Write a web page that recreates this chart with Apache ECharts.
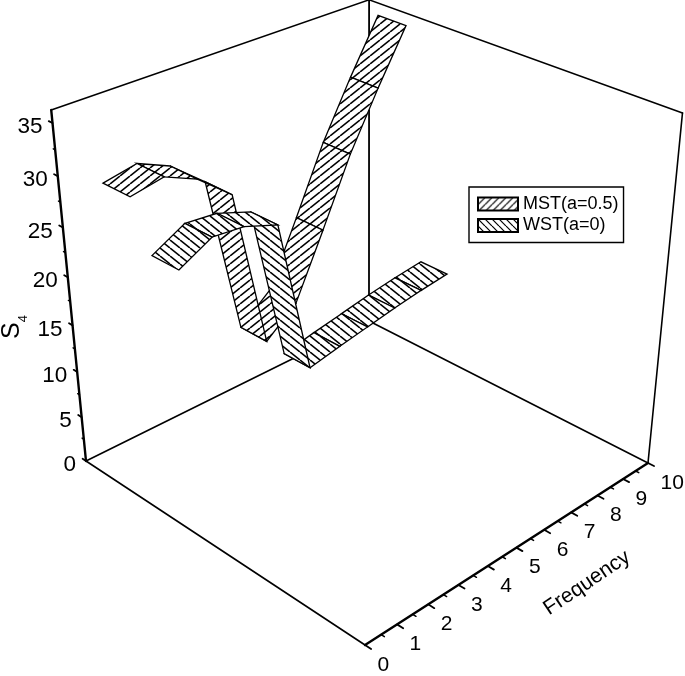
<!DOCTYPE html>
<html>
<head>
<meta charset="utf-8">
<style>html,body{margin:0;padding:0;background:#fff}#c{width:685px;height:676px}</style>
<script src="https://cdn.jsdelivr.net/npm/echarts@6/dist/echarts.min.js"></script>
</head>
<body>
<div id="c"></div>
<script>
// ---- data ----
var freqTicks = [0,1,2,3,4,5,6,7,8,9,10];
var s4Ticks = [0,5,10,15,20,25,30,35];
var frequency = [0,0.97,1.9,2.9,3.8,4.8,5.75,6.7,7.65,8.6];
var mstS4 = [31.6,32.2,30.8,28.0,11.6,14.2,20.6,27.2,32.7,37.8];
var wstS4 = [27.0,28.7,28.4,27.2,11.3,12.0,12.6,13.2,13.7,14.1];
var mstDepth = [0.173,0.269];
var wstDepth = [0.3325,0.425];
var FONT = '"Liberation Sans", Arial, sans-serif';
var S_TOP = 36.2, F_MAX = 10;

// perspective projection of (frequency, depth, S4) to the flat plot plane
function proj(f, d, s) {
  var u = f / F_MAX, t = 0.003034 * s;
  var w = 1 + 0.13067 * u - 0.12882 * d - t;
  return [(331.2 * u + 232 * d + 86 - 368 * t) / w,
          (-98.05 * u + 100.91 * d + 461 - 3306 * t) / w];
}

function hatch(w, h, dir, lw) {
  var c = document.createElement('canvas');
  c.width = w; c.height = h;
  var x = c.getContext('2d');
  x.fillStyle = '#fff'; x.fillRect(0, 0, w, h);
  x.strokeStyle = '#000'; x.lineWidth = lw;
  for (var k = -1; k <= 1; k++) {
    x.beginPath();
    if (dir > 0) { x.moveTo(k * w, h); x.lineTo(k * w + w, 0); }
    else { x.moveTo(k * w, 0); x.lineTo(k * w + w, h); }
    x.stroke();
  }
  return { image: c, repeat: 'repeat' };
}
var mstFill = hatch(10, 8, 1, 1.6), wstFill = hatch(10, 8, -1, 1.6);
var mstKey = hatch(7, 7, 1, 1.2), wstKey = hatch(7, 7, -1, 1.2);

function ribbon(name, values, depth, fill, key, z) {
  var idx = [];
  for (var i = values.length - 2; i >= 0; i--) idx.push([i]);
  return {
    type: 'custom', name: name, z: z, silent: true, clip: false,
    itemStyle: { color: key, borderColor: '#000', borderWidth: 1.2 },
    data: idx,
    renderItem: function (p, api) {
      var i = api.value(0), f0 = frequency[i], f1 = frequency[i + 1];
      var pts = [proj(f0, depth[0], values[i]), proj(f1, depth[0], values[i + 1]),
                 proj(f1, depth[1], values[i + 1]), proj(f0, depth[1], values[i])];
      return { type: 'polygon', shape: { points: pts.map(function (q) { return api.coord(q); }) },
        style: { fill: fill, stroke: '#000', lineWidth: 1.3, lineJoin: 'miter' } };
    }
  };
}

// axes and walls, projected from the same space as the ribbons
var edges = [
  [[0,1,0],[10,1,0],2.4], [[0,0,0],[0,0,S_TOP],2.4],
  [[0,0,0],[0,1,0],1.6], [[0,0,0],[10,0,0],1.6], [[10,0,0],[10,1,0],1.6],
  [[10,0,0],[10,0,S_TOP],1.8], [[0,0,S_TOP],[10,0,S_TOP],1.6],
  [[10,0,S_TOP],[10,1,S_TOP],1.6], [[10,1,0],[10,1,S_TOP],1.6]
];
freqTicks.forEach(function (f) {
  edges.push([[f,1,0],[f,1.019,0],1.8]);
  if (f < 10) edges.push([[f + 0.5,1,0],[f + 0.5,1.01,0],1.5]);
});
s4Ticks.forEach(function (s) {
  edges.push([[0,0,s],[0,-0.014,s],1.8]);
  if (s < 35) edges.push([[0,0,s + 2.5],[0,-0.007,s + 2.5],1.5]);
});
var labels = [];
s4Ticks.forEach(function (s) { labels.push({ kind: 's', v: s }); });
freqTicks.forEach(function (f) { labels.push({ kind: 'f', v: f }); });

var frameSeries = {
  type: 'custom', z: 1, silent: true, clip: false,
  data: edges.map(function (e, i) { return [i]; }),
  renderItem: function (p, api) {
    var e = edges[api.value(0)];
    var a = api.coord(proj(e[0][0], e[0][1], e[0][2])), b = api.coord(proj(e[1][0], e[1][1], e[1][2]));
    return { type: 'line', shape: { x1: a[0], y1: a[1], x2: b[0], y2: b[1] },
      style: { stroke: '#000', lineWidth: e[2], lineCap: 'round' } };
  }
};
var labelSeries = {
  type: 'custom', z: 3, silent: true, clip: false,
  data: labels.map(function (e, i) { return [i]; }),
  renderItem: function (p, api) {
    var l = labels[api.value(0)], q;
    if (l.kind === 's') {
      q = api.coord(proj(0, 0, l.v));
      return { type: 'text', x: q[0] - 10, y: q[1] + 4,
        style: { text: String(l.v), fontSize: 22.5, fontFamily: FONT, fill: '#000', align: 'right', verticalAlign: 'middle' } };
    }
    q = api.coord(proj(l.v, 1, 0));
    return { type: 'text', x: q[0] + 12.5, y: q[1] + 20,
      style: { text: String(l.v), fontSize: 21, fontFamily: FONT, fill: '#000', align: 'left', verticalAlign: 'middle' } };
  }
};
var titleSeries = {
  type: 'custom', z: 3, silent: true, clip: false,
  data: [[0],[1]],
  renderItem: function (p, api) {
    if (api.value(0) === 0) {
      var a = api.coord([12, 327]);
      return { type: 'text', x: a[0], y: a[1], rotation: Math.PI / 2,
        style: { text: '{s|S}{b|4}', fontFamily: FONT, fill: '#000', align: 'center', verticalAlign: 'middle',
          rich: { s: { fontSize: 25, fontFamily: FONT, lineHeight: 36 },
                  b: { fontSize: 13, fontFamily: FONT, verticalAlign: 'bottom', lineHeight: 13 } } } };
    }
    var c = api.coord([587, 583]);
    return { type: 'text', x: c[0], y: c[1], rotation: 34 * Math.PI / 180,
      style: { text: 'Frequency', fontSize: 21, fontFamily: FONT, fill: '#000', align: 'center', verticalAlign: 'middle' } };
  }
};

var chart = echarts.init(document.getElementById('c'), null, { renderer: 'canvas' });
chart.setOption({
  animation: false,
  backgroundColor: '#fff',
  grid: { left: 0, right: 0, top: 0, bottom: 0 },
  xAxis: { type: 'value', min: 0, max: 685, show: false },
  yAxis: { type: 'value', min: 0, max: 676, inverse: true, show: false },
  legend: {
    selectedMode: false, orient: 'vertical', left: 469, top: 187, icon: 'rect',
    itemWidth: 40, itemHeight: 13, itemGap: 3.5, padding: [8, 5, 8, 8],
    borderColor: '#000', borderWidth: 1.4,
    textStyle: { fontSize: 18, fontFamily: FONT, color: '#000' },
    data: ['MST(a=0.5)', 'WST(a=0)']
  },
  series: [
    frameSeries,
    ribbon('MST(a=0.5)', mstS4, mstDepth, mstFill, mstKey, 2),
    ribbon('WST(a=0)', wstS4, wstDepth, wstFill, wstKey, 2.5),
    labelSeries, titleSeries
  ]
});
</script>
</body>
</html>
